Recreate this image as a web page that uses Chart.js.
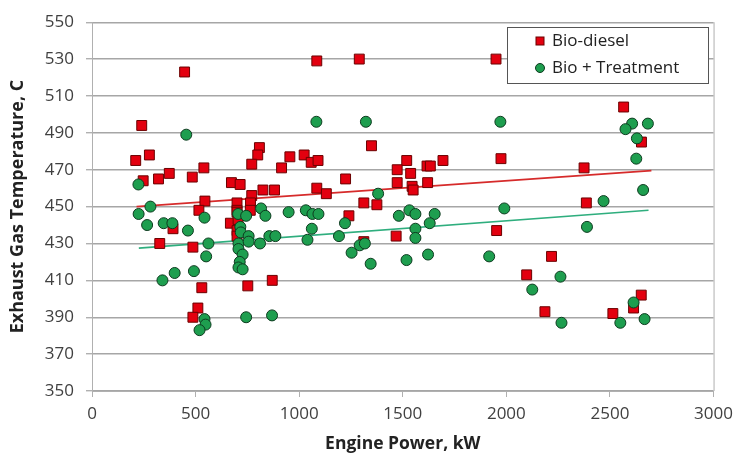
<!DOCTYPE html>
<html>
<head>
<meta charset="utf-8">
<script src="https://cdn.jsdelivr.net/npm/chart.js@4.4.0/dist/chart.umd.min.js"></script>
<style>
  body { margin: 0; background: #fff; }
  #wrap { width: 740px; height: 463px; }
</style>
</head>
<body>
<div id="wrap"><canvas id="myChart" width="740" height="463"></canvas></div>
<script>
// series names
const seriesNames = ['Bio-diesel', 'Bio + Treatment'];

// Bio-diesel : engine power (kW) / exhaust temp (C)
const bioPower = [447,1085,1290,240,1349,211,277,808,800,771,915,955,1024,1058,1091,1519,1473,1538,1473,1545,1550,247,321,373,484,540,673,715,771,765,825,881,1224,1085,1131,1312,1375,545,700,516,700,1240,391,327,487,530,511,487,752,870,668,700,705,700,700,764,1468,1312,1950,1974,2566,2652,2375,2386,1617,1633,1694,1620,1953,2218,2098,2186,2514,2614,2651];
const bioTemp  = [523,529,530,494,483,475,478,482,478,473,471,477,478,474,475,475,470,468,463,461,459,464,465,468,466,471,463,462,456,452,459,459,465,460,457,452,451,453,452,448,448,445,438,430,428,406,395,390,407,410,441,447,443,437,434,448,434,431,530,476,504,485,471,452,472,472,475,463,437,423,413,393,392,395,402];

// Bio + Treatment
const trtPower = [455,1083,1322,224,1381,282,225,266,346,388,463,543,562,551,492,399,340,543,548,519,744,869,716,707,707,727,713,707,727,705,718,744,756,756,811,816,837,856,885,949,1032,1064,1093,1061,1040,1192,1221,1253,1292,1317,1345,1481,1518,1532,1561,1561,1561,1971,2607,2683,2575,2630,2627,2660,2469,1990,1654,1630,1622,1917,2389,2261,2125,2266,2550,2614,2667];
const trtTemp  = [489,496,496,462,457,450,446,440,441,441,437,444,430,423,415,414,410,389,386,383,390,391,439,430,427,424,420,417,416,446,436,445,434,431,430,449,445,434,434,447,448,446,446,438,432,434,441,425,429,430,419,445,421,448,446,438,433,496,495,495,492,487,476,459,453,449,446,441,424,423,439,412,405,387,387,398,389];

// linear trend lines (end points)
const bioTrendX = [215, 2700];
const bioTrendY = [450, 469.5];
const trtTrendX = [226, 2686];
const trtTrendY = [427.5, 448];

const redFill = '#e3000f', redEdge = '#6b0000';
const greenFill = '#1e9e4f', greenEdge = '#0d3b1f';

function pts(xs, ys) {
  return xs.map((x, i) => ({x: x, y: ys[i]}));
}

const plotBorder = {
  id: 'plotBorder',
  beforeDatasetsDraw(chart) {
    const a = chart.chartArea, ctx = chart.ctx;
    ctx.save();
    ctx.strokeStyle = '#b0b0b0';
    ctx.lineWidth = 1;
    ctx.beginPath();
    ctx.moveTo(a.right + 0.5, a.top);
    ctx.lineTo(a.right + 0.5, a.bottom);
    ctx.stroke();
    ctx.restore();
  }
};

const boxLegend = {
  id: 'boxLegend',
  afterDraw(chart) {
    const ctx = chart.ctx;
    const bx = 507, by = 27, bw = 201, bh = 56;
    ctx.save();
    ctx.fillStyle = '#fff';
    ctx.fillRect(bx, by, bw, bh);
    ctx.strokeStyle = '#555';
    ctx.lineWidth = 1;
    ctx.strokeRect(bx + 0.5, by + 0.5, bw, bh);
    // red square
    ctx.fillStyle = redFill; ctx.strokeStyle = redEdge;
    ctx.fillRect(536, 37, 8, 8);
    ctx.strokeRect(536, 37, 8, 8);
    // green dot
    ctx.beginPath();
    ctx.arc(540, 68, 4.5, 0, Math.PI * 2);
    ctx.fillStyle = greenFill; ctx.fill();
    ctx.strokeStyle = greenEdge; ctx.stroke();
    ctx.fillStyle = '#222';
    ctx.font = '17px "Open Sans"';
    ctx.textBaseline = 'middle';
    ctx.fillText(seriesNames[0], 552, 41);
    ctx.fillText(seriesNames[1], 552, 68);
    ctx.restore();
  }
};

const config = {
  type: 'scatter',
  data: {
    datasets: [
      {
        label: seriesNames[1],
        data: pts(trtPower, trtTemp),
        pointStyle: 'circle',
        pointRadius: 5.5,
        backgroundColor: greenFill,
        borderColor: greenEdge,
        borderWidth: 1,
        order: 1
      },
      {
        label: seriesNames[0],
        data: pts(bioPower, bioTemp),
        pointStyle: 'rect',
        pointRadius: 7,
        backgroundColor: redFill,
        borderColor: redEdge,
        borderWidth: 1,
        order: 2
      },
      {
        label: 'trend1',
        data: pts(bioTrendX, bioTrendY),
        showLine: true,
        pointRadius: 0,
        borderColor: '#d62b2b',
        borderWidth: 1.6,
        order: 3
      },
      {
        label: 'trend2',
        data: pts(trtTrendX, trtTrendY),
        showLine: true,
        pointRadius: 0,
        borderColor: '#2fae7e',
        borderWidth: 1.6,
        order: 3
      }
    ]
  },
  options: {
    responsive: false,
    animation: false,
    layout: { padding: { left: 0, right: 24, top: 14, bottom: 6 } },
    plugins: {
      legend: { display: false },
      tooltip: { enabled: false }
    },
    scales: {
      x: {
        type: 'linear',
        min: 0, max: 3000,
        ticks: { stepSize: 500, color: '#404040', padding: 7, font: { family: 'Open Sans', size: 17 },
                 callback: (v) => String(v) },
        grid: { drawOnChartArea: false, drawTicks: true, tickLength: 6, color: '#b0b0b0' },
        border: { color: '#b0b0b0' },
        title: { display: true, text: 'Engine Power, kW', color: '#222', padding: { top: 0, bottom: 2 },
                 font: { family: 'Open Sans', size: 17.5, weight: 'bold' } },
        afterFit(s) { s.height = 66; }
      },
      y: {
        min: 350, max: 550,
        ticks: { stepSize: 20, color: '#404040', padding: 12, font: { family: 'Open Sans', size: 17 } },
        grid: { color: '#a6a6a6', lineWidth: 1.4, tickLength: 6, tickColor: '#b0b0b0' },
        border: { color: '#b0b0b0' },
        title: { display: true, text: 'Exhaust Gas Temperature, C', color: '#222', padding: { top: 7, bottom: 0 },
                 font: { family: 'Open Sans', size: 18, weight: 'bold' } },
        afterFit(s) { s.width = 92; }
      }
    }
  },
  plugins: [plotBorder, boxLegend]
};

const myChart = new Chart(document.getElementById('myChart'), config);
</script>
</body>
</html>
